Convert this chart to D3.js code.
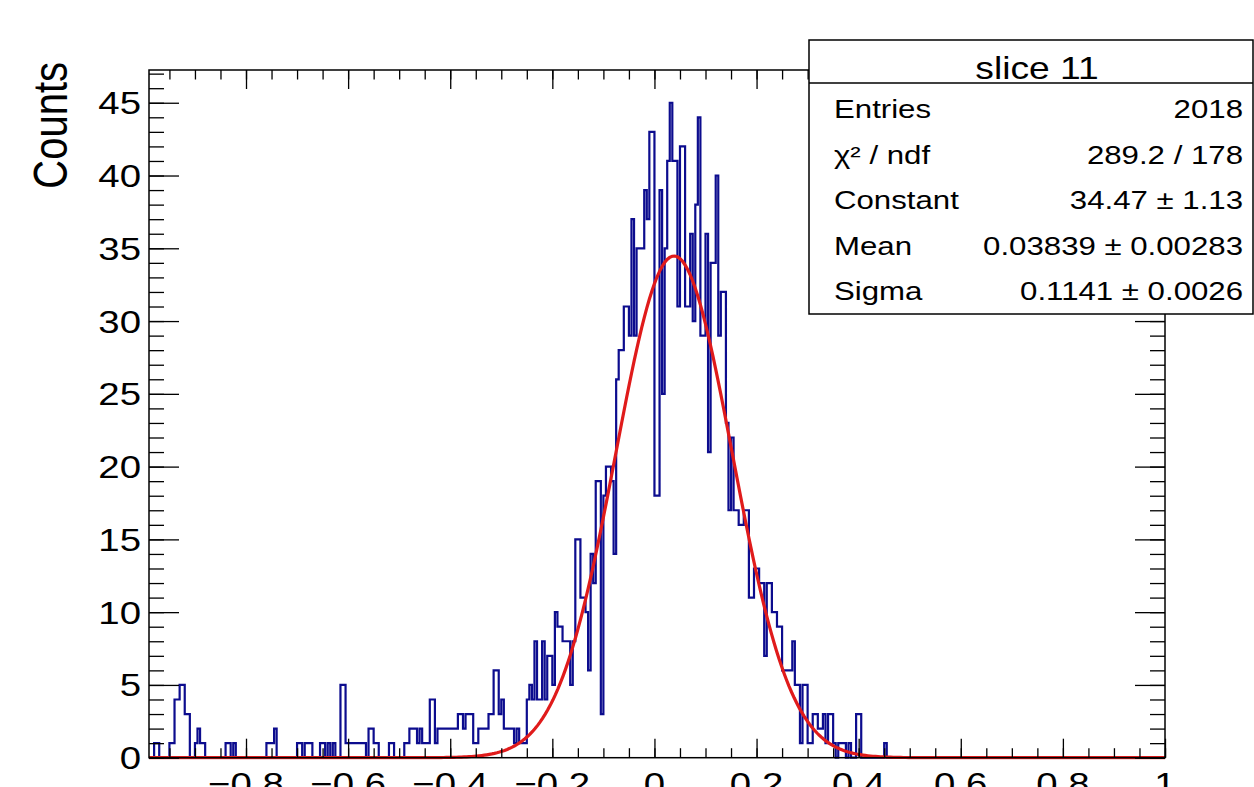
<!DOCTYPE html>
<html>
<head>
<meta charset="utf-8">
<script src="https://cdn.jsdelivr.net/npm/d3@7"></script>
<style>
  body { margin: 0; background: #fff; }
  svg { display: block; font-family: "Liberation Sans", Arial, sans-serif; }
</style>
</head>
<body>
<svg width="1254" height="787"></svg>
<script>
var width = 1254;
var height = 787;

// histogram binning (0.005 wide bins starting at -0.99)
var binLow = -0.99;
var binWidth = 0.005;

// counts, bin by bin
var countsLeft = [
  0,0,1,1,0,0,0,0,1,1,
  4,4,5,5,3,3,0,0,1,2,
  1,1,0,0,0,0,0,0,0,0,
  1,1,0,1,0,0,0,0,0,0,
  0,0,0,0,0,0,1,1,1,2,
  0,0,0,0,0,0,0,0,1,1,
  0,1,1,1,0,0,0,1,1,0,
  1,0,1,0,0,5,5,1,1,1,
  1,1,1,1,1,0,2,2,1,1,
  0,0,0,0,1,1,0,0,0,0,
  1,1,2,2,2,1,2,1,1,1,
  4,4,1,2,2,2,2,2,2,2,
  2,3,3,2,3,3,3,1,1,2,
  2,2,2,3,3,6,6,3,4,2,
  2,2,2,1,2,1,1,1
];
var countsPeak = [
  4,5,4,8,4,4,8,4,7,7,
  5,10,9,9,8,8,8,5,8,15,
  15,11,11,10,6,14,12,19,19,3,
  18,20,20,19,14,26,28,28,31,31,
  29,37,29,35,35,35,39,37,43,43,
  18,18,39,25,35,41,45,41,41,31,
  42,42,31,31,36,30,38,44,29,29,
  36,21,34,34,40,29,32,32,23,17,
  22,17,17,16,16,17,17,11,11,13,
  13,12,12,7,12,12,10,10,9,9,
  6,6,6,6,8,5,5,1,5,5,
  1,1,3,3,2,2,3,1,3,3
];
var countsRight = [
  1,0,1,1,1,0,1,0,0,3,
  3,0,0,0,0,0,0,0,0,0,
  1,0,0,0,0,0,0,0,0,0,
  0,0,0,0,0,0,0,0,0,0,
  0,0,0,0,0,0,0,0,0,0,
  0,0,0,0,0,0,0,0,0,0,
  0,0,0,0,0,0,0,0,0,0,
  0,0,0,0,0,0,0,0,0,0,
  0,0,0,0,0,0,0,0,0,0,
  0,0,0,0,0,0,0,0,0,0,
  0,0,0,0,0,0,0,0,0,0,
  0,0,0,0,0,0,0,0,0,0,
  0,0,0,0,0,0,0,0,0,0
];

// fit result shown in the stats box
var fitConstant = 34.47;
var fitMean = 0.03839;
var fitSigma = 0.1141;

var xMajorTicks = [-0.8, -0.6, -0.4, -0.2, 0, 0.2, 0.4, 0.6, 0.8, 1];
var xTickLabels = ["\u22120.8", "\u22120.6", "\u22120.4", "\u22120.2", "0", "0.2", "0.4", "0.6", "0.8", "1"];
var yMajorTicks = [0, 5, 10, 15, 20, 25, 30, 35, 40, 45];
var yTickLabels = ["0", "5", "10", "15", "20", "25", "30", "35", "40", "45"];

var statsTitle = "slice 11";
var statsNames = ["Entries", "\u03c7\u00b2 / ndf", "Constant", "Mean", "Sigma"];
var statsValues = ["2018", "289.2 / 178", "34.47 \u00b1 1.13", "0.03839 \u00b1 0.00283", "0.1141 \u00b1 0.0026"];

var counts = countsLeft.concat(countsPeak, countsRight);

var svg = d3.select("svg")
  .attr("width", width)
  .attr("height", height);

// frame edges (avoid the name "top", it is window.top)
var fLeft = 149, fRight = 1165, fTop = 70, fBottom = 757.7;
var sx = 1.2; // text looks stretched sideways in the picture

var x = d3.scaleLinear().domain([binLow, binLow + binWidth * counts.length]).range([fLeft, fRight]);
var y = d3.scaleLinear().domain([0, 47.25]).range([fBottom, fTop]);

svg.append("clipPath").attr("id", "frameclip")
  .append("rect").attr("x", fLeft).attr("y", fTop - 2).attr("width", fRight - fLeft).attr("height", fBottom - fTop + 4);

var plot = svg.append("g").attr("clip-path", "url(#frameclip)");

// histogram outline
var pts = [[x(binLow), y(0)]];
counts.forEach(function(c, i) {
  var x0 = x(binLow + i * binWidth), x1 = x(binLow + (i + 1) * binWidth);
  pts.push([x0, y(c)]);
  pts.push([x1, y(c)]);
});
pts.push([x(binLow + counts.length * binWidth), y(0)]);

plot.append("path")
  .attr("d", d3.line()(pts))
  .attr("fill", "none")
  .attr("stroke", "#0c0c8e")
  .attr("stroke-width", 2.2);

// gaussian fit curve
var curveX = d3.range(0, 401).map(function(i) { return binLow + (1 - binLow) * i / 400; });
plot.append("path")
  .datum(curveX)
  .attr("d", d3.line()
    .x(function(d) { return x(d); })
    .y(function(d) { var z = (d - fitMean) / fitSigma; return y(fitConstant * Math.exp(-0.5 * z * z)); }))
  .attr("fill", "none")
  .attr("stroke", "#e01b1b")
  .attr("stroke-width", 3.2);

// frame
svg.append("rect")
  .attr("x", fLeft).attr("y", fTop)
  .attr("width", fRight - fLeft).attr("height", fBottom - fTop)
  .attr("fill", "none").attr("stroke", "#000").attr("stroke-width", 1.5);

// ticks on all four sides
var xMinor = d3.range(-19, 21).map(function(i) { return i * 0.05; });
var yMinor = d3.range(0, 48);

function tickAxis(axis, tx, ty) {
  var g = svg.append("g").attr("transform", "translate(" + tx + "," + ty + ")").call(axis);
  g.select(".domain").remove();
  g.selectAll("line").attr("stroke", "#000").attr("stroke-width", 1.3);
  return g;
}
tickAxis(d3.axisBottom(x).tickValues(xMinor).tickSize(-9.5).tickFormat(""), 0, fBottom);
tickAxis(d3.axisBottom(x).tickValues(xMajorTicks).tickSize(-19).tickFormat(""), 0, fBottom);
tickAxis(d3.axisTop(x).tickValues(xMinor).tickSize(-9.5).tickFormat(""), 0, fTop);
tickAxis(d3.axisTop(x).tickValues(xMajorTicks).tickSize(-19).tickFormat(""), 0, fTop);
tickAxis(d3.axisLeft(y).tickValues(yMinor).tickSize(-15).tickFormat(""), fLeft, 0);
tickAxis(d3.axisLeft(y).tickValues(yMajorTicks).tickSize(-30).tickFormat(""), fLeft, 0);
tickAxis(d3.axisRight(y).tickValues(yMinor).tickSize(-15).tickFormat(""), fRight, 0);
tickAxis(d3.axisRight(y).tickValues(yMajorTicks).tickSize(-30).tickFormat(""), fRight, 0);

// tick labels (the reference cuts the x labels at the bottom edge)
svg.selectAll(".xlab")
  .data(xMajorTicks).enter().append("text")
  .attr("class", "xlab")
  .attr("transform", function(d) { return "translate(" + x(d) + ",795) scale(" + sx + ",1)"; })
  .attr("text-anchor", "middle")
  .attr("font-size", 32)
  .text(function(d, i) { return xTickLabels[i]; });

svg.selectAll(".ylab")
  .data(yMajorTicks).enter().append("text")
  .attr("class", "ylab")
  .attr("transform", function(d) { return "translate(141," + (y(d) + 11.5) + ") scale(" + sx + ",1)"; })
  .attr("text-anchor", "end")
  .attr("font-size", 32)
  .text(function(d, i) { return yTickLabels[i]; });

// y axis title
svg.append("text")
  .attr("transform", "translate(67,62) scale(" + sx + ",1) rotate(-90)")
  .attr("text-anchor", "end")
  .attr("font-size", 40)
  .text("Counts");

// stats box
var box = svg.append("g");
box.append("rect")
  .attr("x", 809).attr("y", 40).attr("width", 444).attr("height", 274)
  .attr("fill", "#fff").attr("stroke", "#000").attr("stroke-width", 1.5);
box.append("line")
  .attr("x1", 809).attr("x2", 1253).attr("y1", 83).attr("y2", 83)
  .attr("stroke", "#000").attr("stroke-width", 1.5);
box.append("text")
  .attr("transform", "translate(1037,79) scale(" + sx + ",1)")
  .attr("text-anchor", "middle")
  .attr("font-size", 31)
  .text(statsTitle);

box.selectAll(".sname")
  .data(statsNames).enter().append("text")
  .attr("class", "sname")
  .attr("transform", function(d, i) { return "translate(834," + (118 + 45.5 * i) + ") scale(" + sx + ",1)"; })
  .attr("font-size", 26)
  .text(function(d) { return d; });

box.selectAll(".sval")
  .data(statsValues).enter().append("text")
  .attr("class", "sval")
  .attr("transform", function(d, i) { return "translate(1243," + (118 + 45.5 * i) + ") scale(" + sx + ",1)"; })
  .attr("text-anchor", "end")
  .attr("font-size", 26)
  .text(function(d) { return d; });
</script>
</body>
</html>
